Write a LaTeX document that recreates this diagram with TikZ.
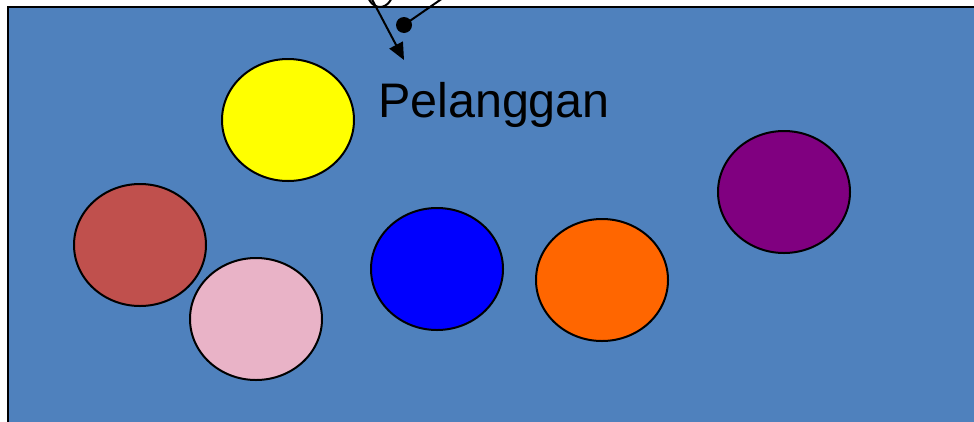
\documentclass[tikz,border=0pt]{standalone}
\usepackage{fontspec}
\setmainfont{Liberation Sans}
\usetikzlibrary{arrows.meta,shapes.geometric}
\definecolor{latar}{HTML}{4F81BD}
\definecolor{kuning}{HTML}{FFFF00}
\definecolor{bata}{HTML}{C0504D}
\definecolor{merahmuda}{HTML}{E9B3C7}
\definecolor{birutua}{HTML}{0000FF}
\definecolor{ungu}{HTML}{800080}
\definecolor{jingga}{HTML}{FF6600}
\begin{document}
\begin{tikzpicture}[x=1pt, y=-1pt, line width=2pt,
    bola/.style={draw, ellipse, minimum width=132pt, minimum height=122pt, inner sep=0pt}]
    \useasboundingbox (0,0) rectangle (974,421);
    \clip (0,0) rectangle (974,421);
    \draw[fill=latar] (8,7) rectangle (1000,450);

    % lingkaran pelanggan
    \node[bola, fill=kuning] at (288,120) (kuning) {};
    \node[bola, fill=bata] at (140,245) (coklat) {};
    \node[bola, fill=merahmuda] at (256,319) (pink) {};
    \node[bola, fill=birutua] at (437,269) (biru) {};
    \node[bola, fill=jingga] at (602,280) (oranye) {};
    \node[bola, fill=ungu] at (784,192) (ungu) {};

    \node[anchor=base west, inner sep=0pt, font=\fontsize{48.5}{58}\selectfont] at (377,117) (teks) {Pelanggan};

    % panah dari atas
    \node[draw, ellipse, fill=white, minimum width=27pt, minimum height=36pt, inner sep=0pt] at (380,-11) (atas) {};
    \coordinate (ekor) at (366,-12);
    \coordinate (ujung) at (404,60);
    \draw[-{Triangle[length=17pt,width=15pt]}] (ekor) -- (ujung);
    \node[circle, fill=black, minimum size=16pt, inner sep=0pt] at (404,25) (titik) {};
    \coordinate (luar) at (466,-18);
    \draw (titik.center) -- (luar);
\end{tikzpicture}
\end{document}
